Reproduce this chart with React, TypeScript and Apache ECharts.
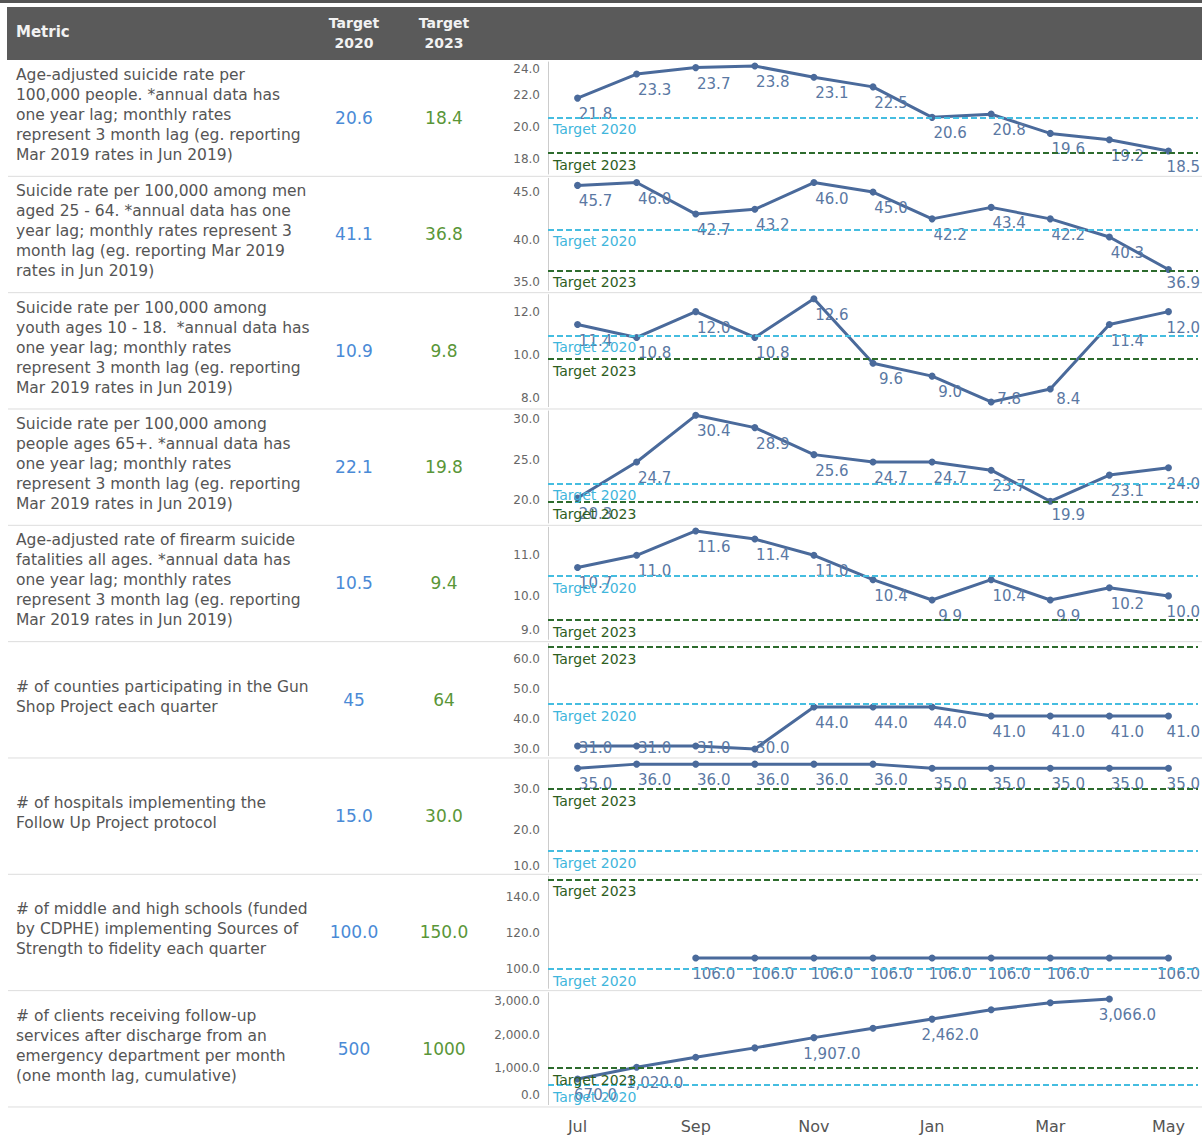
import React, { useEffect, useRef } from 'react';
import * as echarts from 'echarts';

const months = ['Jul', 'Aug', 'Sep', 'Oct', 'Nov', 'Dec', 'Jan', 'Feb', 'Mar', 'Apr', 'May'];

const metricLines: string[][] = [
  ['Age-adjusted suicide rate per', '100,000 people. *annual data has', 'one year lag; monthly rates', 'represent 3 month lag (eg. reporting', 'Mar 2019 rates in Jun 2019)'],
  ['Suicide rate per 100,000 among men', 'aged 25 - 64. *annual data has one', 'year lag; monthly rates represent 3', 'month lag (eg. reporting Mar 2019', 'rates in Jun 2019)'],
  ['Suicide rate per 100,000 among', 'youth ages 10 - 18.  *annual data has', 'one year lag; monthly rates', 'represent 3 month lag (eg. reporting', 'Mar 2019 rates in Jun 2019)'],
  ['Suicide rate per 100,000 among', 'people ages 65+. *annual data has', 'one year lag; monthly rates', 'represent 3 month lag (eg. reporting', 'Mar 2019 rates in Jun 2019)'],
  ['Age-adjusted rate of firearm suicide', 'fatalities all ages. *annual data has', 'one year lag; monthly rates', 'represent 3 month lag (eg. reporting', 'Mar 2019 rates in Jun 2019)'],
  ['# of counties participating in the Gun', 'Shop Project each quarter'],
  ['# of hospitals implementing the', 'Follow Up Project protocol'],
  ['# of middle and high schools (funded', 'by CDPHE) implementing Sources of', 'Strength to fidelity each quarter'],
  ['# of clients receiving follow-up', 'services after discharge from an', 'emergency department per month', '(one month lag, cumulative)'],
];

const target2020 = [20.6, 41.1, 10.9, 22.1, 10.5, 45, 15, 100, 500];
const target2023 = [18.4, 36.8, 9.8, 19.8, 9.4, 64, 30, 150, 1000];
const target2020Text = ['20.6', '41.1', '10.9', '22.1', '10.5', '45', '15.0', '100.0', '500'];
const target2023Text = ['18.4', '36.8', '9.8', '19.8', '9.4', '64', '30.0', '150.0', '1000'];

const row1 = [21.8, 23.3, 23.7, 23.8, 23.1, 22.5, 20.6, 20.8, 19.6, 19.2, 18.5];
const row2 = [45.7, 46.0, 42.7, 43.2, 46.0, 45.0, 42.2, 43.4, 42.2, 40.3, 36.9];
const row3 = [11.4, 10.8, 12.0, 10.8, 12.6, 9.6, 9.0, 7.8, 8.4, 11.4, 12.0];
const row4 = [20.3, 24.7, 30.4, 28.9, 25.6, 24.7, 24.7, 23.7, 19.9, 23.1, 24.0];
const row5 = [10.7, 11.0, 11.6, 11.4, 11.0, 10.4, 9.9, 10.4, 9.9, 10.2, 10.0];
const row6 = [31, 31, 31, 30, 44, 44, 44, 41, 41, 41, 41];
const row7 = [35, 36, 36, 36, 36, 36, 35, 35, 35, 35, 35];
const row8 = [null, null, 106, 106, 106, 106, 106, 106, 106, 106, 106];
const row9 = [670, 1020, 1320, 1600, 1907, 2190, 2462, 2740, 2950, 3066, null];

const rowsData = [row1, row2, row3, row4, row5, row6, row7, row8, row9];

const yMin = [17.07, 34.72, 7.58, 17.25, 8.93, 27.77, 10, 89, -99];
const yMax = [24.05, 46.44, 12.79, 30.93, 11.69, 65.1, 37, 151.7, 3254];
const yTicks = [
  [18, 20, 22, 24],
  [35, 40, 45],
  [8, 10, 12],
  [20, 25, 30],
  [9, 10, 11],
  [30, 40, 50, 60],
  [10, 20, 30],
  [100, 120, 140],
  [0, 1000, 2000, 3000],
];
const hiddenLabels: number[][] = [[], [], [], [], [], [], [], [9], [2, 3, 5, 7, 8]];

const FONT = '"DejaVu Sans", Verdana, sans-serif';
const ROW_TOP0 = 60;
const ROW_H = 116.33;
const GRID_LEFT = 548;
const GRID_PAD_TOP = 2;
const GRID_H = 112;
const LABEL_DX = 18;
const W = 1202;
const H = 1137;

const fmt = (v: number) =>
  Number(v).toLocaleString('en-US', { minimumFractionDigits: 1, maximumFractionDigits: 1 });

export default function App() {
  const ref = useRef<HTMLDivElement>(null);
  useEffect(() => {
    if (!ref.current) return;
    const chart = echarts.init(ref.current, undefined, { renderer: 'svg', width: W, height: H });
    const rowTop = (i: number) => ROW_TOP0 + ROW_H * i;

    const graphic: any[] = [];
    graphic.push({ type: 'rect', shape: { x: 0, y: 0, width: W, height: 3 }, style: { fill: '#555555' } });
    graphic.push({ type: 'rect', shape: { x: 7, y: 7, width: W - 7, height: 53 }, style: { fill: '#5a5a5a' } });
    graphic.push({
      type: 'text',
      style: { text: 'Metric', x: 16, y: 32, fill: '#f2f2f2', font: `bold 15px ${FONT}`, verticalAlign: 'middle' },
    });
    graphic.push({
      type: 'text',
      style: { text: 'Target\n2020', x: 354, y: 33, fill: '#f2f2f2', font: `bold 14px ${FONT}`, align: 'center', verticalAlign: 'middle', lineHeight: 20 },
    });
    graphic.push({
      type: 'text',
      style: { text: 'Target\n2023', x: 444, y: 33, fill: '#f2f2f2', font: `bold 14px ${FONT}`, align: 'center', verticalAlign: 'middle', lineHeight: 20 },
    });
    for (let i = 0; i < rowsData.length; i++) {
      const top = rowTop(i);
      const mid = top + ROW_H / 2;
      graphic.push({
        type: 'text',
        style: { text: metricLines[i].join('\n'), x: 16, y: mid - 3, fill: '#555555', font: `15.5px ${FONT}`, lineHeight: 20, verticalAlign: 'middle' },
      });
      graphic.push({
        type: 'text',
        style: { text: target2020Text[i], x: 354, y: mid, fill: '#4a8ad6', font: `17px ${FONT}`, align: 'center', verticalAlign: 'middle' },
      });
      graphic.push({
        type: 'text',
        style: { text: target2023Text[i], x: 444, y: mid, fill: '#5a9638', font: `17px ${FONT}`, align: 'center', verticalAlign: 'middle' },
      });
      graphic.push({
        type: 'line',
        shape: { x1: 8, y1: top + ROW_H, x2: W, y2: top + ROW_H },
        style: { stroke: '#dddddd', lineWidth: 1 },
      });
    }

    const valueToPx = (i: number, v: number) =>
      rowTop(i) + GRID_PAD_TOP + ((yMax[i] - v) / (yMax[i] - yMin[i])) * GRID_H;

    const option: any = {
      animation: false,
      backgroundColor: '#ffffff',
      textStyle: { fontFamily: FONT },
      graphic,
      grid: rowsData.map((_, i) => ({ left: GRID_LEFT, right: 4, top: rowTop(i) + GRID_PAD_TOP, height: GRID_H })),
      xAxis: rowsData.map((_, i) => ({
        type: 'category',
        gridIndex: i,
        data: months,
        boundaryGap: true,
        axisLine: { show: false },
        axisTick: { show: false },
        splitLine: { show: false },
        axisLabel: { show: i === 8, interval: 1, fontSize: 16, color: '#555555', margin: 14, fontFamily: FONT },
      })),
      yAxis: rowsData.map((_, i) => {
        const ticks = yTicks[i];
        const topPx = valueToPx(i, ticks[ticks.length - 1]) - (rowTop(i) + GRID_PAD_TOP);
        const botPx = rowTop(i) + GRID_PAD_TOP + GRID_H - valueToPx(i, ticks[0]);
        return {
          type: 'value',
          gridIndex: i,
          min: yMin[i],
          max: yMax[i],
          axisLine: { show: true, lineStyle: { color: '#cccccc', width: 1 } },
          axisTick: { show: false },
          splitLine: { show: false },
          axisLabel: {
            customValues: ticks,
            formatter: (v: number) => fmt(v),
            fontSize: 12,
            color: '#666666',
            margin: 8,
            fontFamily: FONT,
            verticalAlignMaxLabel: topPx < 5 ? 'top' : undefined,
            verticalAlignMinLabel: botPx < 5 ? 'bottom' : undefined,
          },
        };
      }),
      series: rowsData.map((data, i) => ({
        type: 'line',
        xAxisIndex: i,
        yAxisIndex: i,
        data: data.map((v, j) => (hiddenLabels[i].includes(j) ? { value: v, label: { show: false } } : v)),
        symbol: 'circle',
        symbolSize: 7,
        lineStyle: { color: '#4a6a9b', width: 3 },
        itemStyle: { color: '#4a6a9b' },
        label: {
          show: true,
          position: 'bottom',
          offset: [LABEL_DX, 0],
          formatter: (p: any) => fmt(p.value),
          color: '#5a78a3',
          fontSize: 15,
          fontFamily: FONT,
        },
        labelLayout: (params: any) => {
          const r = params.labelRect;
          const bottom = rowTop(i) + GRID_PAD_TOP + GRID_H;
          let dx = LABEL_DX;
          let dy = 0;
          if (r.x + r.width > W - 2) dx += W - 2 - (r.x + r.width);
          if (r.y + r.height > bottom) dy = bottom - (r.y + r.height);
          return { dx, dy };
        },
        markLine: {
          silent: true,
          symbol: ['none', 'none'],
          data: [
            {
              yAxis: target2020[i],
              lineStyle: { color: '#45bde0', type: [6, 3], width: 2 },
              label: { formatter: 'Target 2020', position: 'insideStartBottom', color: '#3fb6dc', fontSize: 14, fontFamily: FONT },
            },
            {
              yAxis: target2023[i],
              lineStyle: { color: '#2d6b2d', type: [6, 3], width: 2 },
              label: { formatter: 'Target 2023', position: 'insideStartBottom', color: '#2e5e1e', fontSize: 14, fontFamily: FONT },
            },
          ],
        },
      })),
    };
    chart.setOption(option);
    return () => chart.dispose();
  }, []);
  return <div ref={ref} style={{ position: 'absolute', left: 0, top: 0, width: W, height: H, background: '#fff' }} />;
}
